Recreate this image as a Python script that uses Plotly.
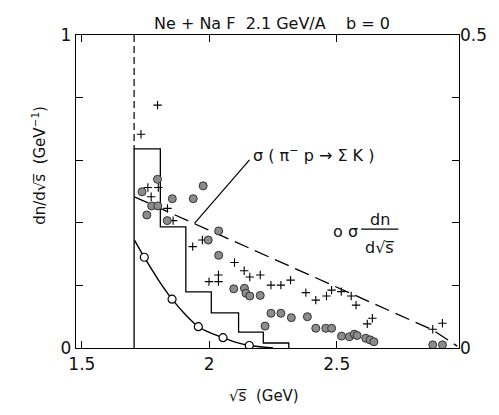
import plotly.graph_objects as go

# ---- data ----
hist_edges = [1.705, 1.808, 1.908, 2.008, 2.115, 2.212, 2.312]
hist_vals = [0.636, 0.387, 0.179, 0.112, 0.051, 0.016]

thr_x = 1.705

plus_x = [1.797, 1.732, 1.759, 1.772, 1.800, 1.836, 1.858, 1.935, 1.973, 2.099,
          2.137, 2.159, 2.200, 1.999, 2.036, 2.036, 2.242, 2.281, 2.319, 2.379,
          2.418, 2.460, 2.480, 2.518, 2.557, 2.576, 2.620, 2.640, 2.877, 2.915]
plus_y = [0.776, 0.683, 0.513, 0.483, 0.513, 0.446, 0.407, 0.324, 0.345, 0.273,
          0.247, 0.227, 0.233, 0.212, 0.233, 0.212, 0.201, 0.201, 0.217, 0.177,
          0.153, 0.166, 0.185, 0.180, 0.166, 0.137, 0.077, 0.095, 0.060, 0.079]

dot_x = [1.797, 1.736, 1.976, 1.855, 1.937, 1.774, 1.798, 1.755, 1.835, 2.037,
         1.996, 2.037, 2.096, 2.138, 2.144, 2.159, 2.200, 2.242, 2.281, 2.322,
         2.385, 2.219, 2.418, 2.457, 2.480, 2.519, 2.550, 2.569, 2.580, 2.614,
         2.631, 2.646, 2.877, 2.915]
dot_y = [0.539, 0.499, 0.518, 0.477, 0.477, 0.454, 0.454, 0.425, 0.407, 0.374,
         0.345, 0.296, 0.189, 0.191, 0.175, 0.166, 0.168, 0.111, 0.111, 0.097,
         0.100, 0.070, 0.063, 0.063, 0.063, 0.038, 0.036, 0.044, 0.040, 0.031,
         0.026, 0.020, 0.010, 0.010]

# sigma dn/dsqrt(s) (right axis)
open_x = [1.745, 1.854, 1.957, 2.054, 2.157]
open_y = [0.145, 0.078, 0.034, 0.0165, 0.004]
curve_x = [1.707, 1.745, 1.80, 1.854, 1.905, 1.957, 2.005, 2.054, 2.105, 2.157, 2.25]
curve_y = [0.172, 0.145, 0.109, 0.078, 0.054, 0.034, 0.024, 0.0165, 0.009, 0.004, 0.0]

dash_x = [1.706, 2.877, 2.973]
dash_y = [0.483, 0.0575, 0.006]

x_tick_vals = [1.5, 2, 2.5]
x_tick_text = ["1.5", "2", "2.5"]

FONT = "DejaVu Sans"
INK = "#111"
fig = go.Figure()

# histogram
hx = [hist_edges[0]] + hist_edges[:-1] + [hist_edges[-1]]
hy = [0] + hist_vals + [0]
fig.add_trace(go.Scatter(x=hx, y=hy, mode="lines", line=dict(shape="hv", color="black", width=1.3),
                         hoverinfo="skip", showlegend=False))
# threshold dashed vertical
fig.add_trace(go.Scatter(x=[thr_x, thr_x], y=[1.0, hist_vals[0]], mode="lines",
                         line=dict(color="black", width=1.2, dash="7px,4px"), showlegend=False))
# dashed sloped line
fig.add_trace(go.Scatter(x=dash_x, y=dash_y, mode="lines",
                         line=dict(color="black", width=1.3, dash="15px,7px"), showlegend=False))
# plus markers
fig.add_trace(go.Scatter(x=plus_x, y=plus_y, mode="markers",
                         marker=dict(symbol="cross-thin", size=6, line=dict(color="black", width=1.1)),
                         showlegend=False))
# filled circles
fig.add_trace(go.Scatter(x=dot_x, y=dot_y, mode="markers",
                         marker=dict(symbol="circle", size=8, color="#8c8c8c",
                                     line=dict(color="#333333", width=1)),
                         showlegend=False))
# curve and open circles (right axis)
fig.add_trace(go.Scatter(x=curve_x, y=curve_y, mode="lines", yaxis="y2",
                         line=dict(color="black", width=1.4, shape="spline", smoothing=0.8),
                         showlegend=False))
fig.add_trace(go.Scatter(x=open_x, y=open_y, mode="markers", yaxis="y2",
                         marker=dict(symbol="circle", size=8, color="white",
                                     line=dict(color="black", width=1.2)),
                         showlegend=False))

# pointer line
fig.add_shape(type="line", xref="x", yref="y", x0=2.158, y0=0.601, x1=1.942, y1=0.398,
              line=dict(color="black", width=1.2))
# fraction bar
fig.add_shape(type="line", xref="x", yref="y", x0=2.596, y0=0.380, x1=2.742, y1=0.380,
              line=dict(color="black", width=1.2))

ann = [
    dict(text="Ne + Na F  2.1 GeV/A    b = 0", x=0.512, y=1.073, xref="paper", yref="paper",
         showarrow=False, font=dict(size=16, family=FONT, color=INK)),
    dict(text="σ ( π<sup>−</sup> p → Σ K )", x=2.163, y=0.617, xref="x", yref="y", xanchor="left",
         showarrow=False, font=dict(size=16, family=FONT, color=INK)),
    dict(text="o σ", x=2.477, y=0.371, xref="x", yref="y", xanchor="left",
         showarrow=False, font=dict(size=16, family=FONT, color=INK)),
    dict(text="dn", x=2.669, y=0.411, xref="x", yref="y",
         showarrow=False, font=dict(size=16, family=FONT, color=INK)),
    dict(text="d√s̅", x=2.669, y=0.321, xref="x", yref="y",
         showarrow=False, font=dict(size=16, family=FONT, color=INK)),
    dict(text="dn/d√s̅  (GeV<sup>−1</sup>)", x=-0.128, y=0.585, xref="paper", yref="paper",
         textangle=-90, showarrow=False, font=dict(size=15, family=FONT, color=INK)),
    dict(text="√s̅  (GeV)", x=0.491, y=-0.188, xref="paper", yref="paper",
         showarrow=False, font=dict(size=15, family=FONT, color=INK)),
]

fig.update_layout(
    width=499, height=415,
    margin=dict(l=76, r=32, t=35, b=67),
    paper_bgcolor="white", plot_bgcolor="white",
    font=dict(family=FONT, size=16, color=INK),
    annotations=ann,
    xaxis=dict(range=[1.477, 2.98], tickvals=x_tick_vals, ticktext=x_tick_text,
               ticks="inside", ticklen=7, tickcolor="black", showline=True, linecolor="black",
               linewidth=1.3, mirror="ticks", showgrid=False, zeroline=False,
               tickfont=dict(size=17)),
    yaxis=dict(range=[0, 1], tickvals=[0, 1], ticktext=["0", "1"],
               ticks="inside", ticklen=7, tickcolor="black", showline=True, linecolor="black",
               linewidth=1.3, mirror="ticks", showgrid=False, zeroline=False,
               tickfont=dict(size=17),
               minor=dict(dtick=0.2, tick0=0, ticks="inside", ticklen=7, tickcolor="black",
                          showgrid=False)),
    yaxis2=dict(range=[0, 0.5], overlaying="y", side="right", tickvals=[0, 0.5],
                ticktext=["0", "0.5"], ticks="", showgrid=False, zeroline=False,
                showline=False, tickfont=dict(size=17)),
)

fig.write_html("out.html")
